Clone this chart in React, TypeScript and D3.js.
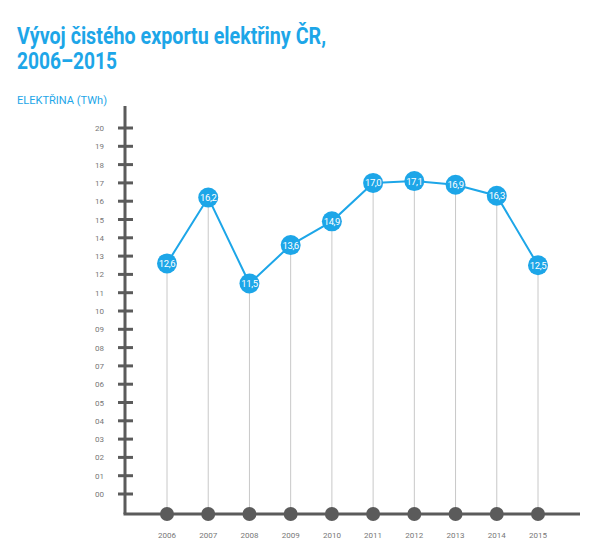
import React from 'react';
import * as d3 from 'd3';

const years = ['2006', '2007', '2008', '2009', '2010', '2011', '2012', '2013', '2014', '2015'];
const exportTWh = [12.6, 16.2, 11.5, 13.6, 14.9, 17.0, 17.1, 16.9, 16.3, 12.5];
const yTicks = d3.range(0, 21);

const blue = '#1da6e8';
const grey = '#5b5b5b';

const App: React.FC = () => {
  const width = 600;
  const height = 553;

  const x = d3.scalePoint<string>().domain(years).range([167, 538]);
  const y = d3.scaleLinear().domain([0, 20]).range([494, 128]);

  const line = d3.line<number>()
    .x((_, i) => x(years[i]) as number)
    .y(d => y(d));

  const axisX = 125;
  const axisY = 514;

  return (
    <svg width={width} height={height} style={{ position: 'absolute', left: 0, top: 0 }}>
      <rect width={width} height={height} fill="#fff" />
      <text x={17} y={44} fontFamily="Roboto" fontWeight="bold" fontSize={23} fill={blue} textLength={309} lengthAdjust="spacingAndGlyphs">
        Vývoj čistého exportu elektřiny ČR,
      </text>
      <text x={17} y={69} fontFamily="Roboto" fontWeight="bold" fontSize={23} fill={blue} textLength={100} lengthAdjust="spacingAndGlyphs">
        2006–2015
      </text>
      <text x={17} y={104} fontFamily="Roboto" fontSize={11} fill={blue} textLength={90} lengthAdjust="spacingAndGlyphs">
        ELEKTŘINA (TWh)
      </text>

      {/* drop lines */}
      {exportTWh.map((v, i) => (
        <line key={'d' + i} x1={x(years[i])} x2={x(years[i])} y1={y(v)} y2={axisY} stroke="#c8c8c8" strokeWidth={1} />
      ))}

      {/* y axis */}
      <line x1={axisX} x2={axisX} y1={106} y2={axisY} stroke={grey} strokeWidth={3} />
      <line x1={axisX - 1.5} x2={580} y1={axisY} y2={axisY} stroke={grey} strokeWidth={3} />
      {yTicks.map(t => (
        <g key={t}>
          <line x1={118} x2={133} y1={y(t)} y2={y(t)} stroke={grey} strokeWidth={3} />
          <text x={104} y={y(t) + 3} textAnchor="end" fontFamily="Roboto" fontSize={8} fill="#777">
            {d3.format('02d')(t)}
          </text>
        </g>
      ))}

      {/* bottom markers and year labels */}
      {years.map(yr => (
        <g key={yr}>
          <circle cx={x(yr)} cy={axisY} r={7} fill={grey} />
          <text x={x(yr)} y={538} textAnchor="middle" fontFamily="Roboto" fontSize={8} fill="#777">
            {yr}
          </text>
        </g>
      ))}

      <path d={line(exportTWh) || ''} fill="none" stroke={blue} strokeWidth={2} />

      {exportTWh.map((v, i) => (
        <g key={'p' + i}>
          <circle cx={x(years[i])} cy={y(v)} r={10} fill={blue} />
          <text x={x(years[i])} y={y(v) + 3.5} textAnchor="middle" fontFamily="Roboto" fontSize={9.5} fill="#fff" letterSpacing={-0.4}>
            {v.toFixed(1).replace('.', ',')}
          </text>
        </g>
      ))}
    </svg>
  );
};

export default App;
